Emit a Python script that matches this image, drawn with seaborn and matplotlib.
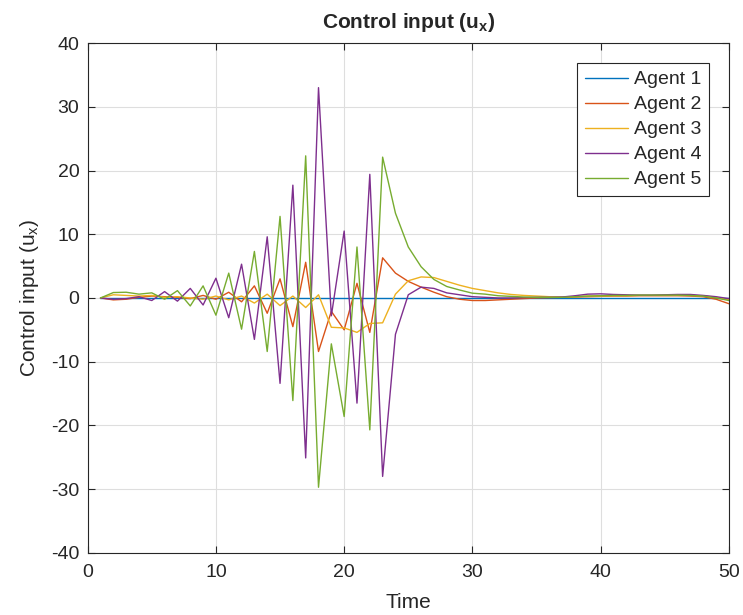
import numpy as np
import pandas as pd
import matplotlib
matplotlib.use("Agg")
import matplotlib.pyplot as plt
import seaborn as sns

# values, one per time step (t = 1..50)
time = np.arange(1, 51)

agent1 = [0.0] * 50

agent2 = [0.0, -0.3, -0.2, 0.1, 0.3, 0.2, 0.1, -0.1, 0.4, -0.2,
          0.9, -0.6, 1.9, -2.4, 3.0, -4.5, 5.6, -8.4, -2.1, -5.0,
          2.3, -5.4, 6.3, 3.9, 2.6, 1.7, 0.9, 0.2, -0.2, -0.4,
          -0.4, -0.3, -0.2, -0.1, 0.0, 0.05, 0.1, 0.15, 0.2, 0.25,
          0.3, 0.3, 0.35, 0.35, 0.35, 0.35, 0.3, 0.2, -0.2, -0.9]

agent3 = [0.0, 0.5, 0.4, 0.3, 0.4, 0.1, 0.2, 0.0, -0.2, 0.3,
          -0.3, 0.3, -0.8, 0.6, -1.2, 0.3, -1.5, 0.5, -4.6, -4.7,
          -5.4, -4.0, -3.9, 0.6, 2.7, 3.3, 3.2, 2.6, 2.0, 1.5,
          1.15, 0.8, 0.55, 0.4, 0.3, 0.2, 0.15, 0.2, 0.3, 0.3,
          0.35, 0.35, 0.4, 0.4, 0.4, 0.4, 0.4, 0.3, 0.1, -0.3]

agent4 = [0.0, -0.2, -0.1, 0.2, -0.4, 1.0, -0.5, 1.5, -1.1, 3.1,
          -3.1, 5.3, -6.5, 9.6, -13.4, 17.7, -25.1, 33.0, -2.8, 10.5,
          -16.5, 19.4, -28.0, -5.7, 0.5, 1.7, 1.5, 0.8, 0.5, 0.2,
          0.1, 0.0, 0.0, 0.05, 0.1, 0.1, 0.15, 0.35, 0.6, 0.65,
          0.55, 0.5, 0.45, 0.45, 0.5, 0.55, 0.55, 0.4, 0.2, -0.1]

agent5 = [0.0, 0.85, 0.9, 0.6, 0.8, -0.2, 1.15, -1.25, 1.9, -2.7,
          3.9, -4.9, 7.3, -8.4, 12.8, -16.1, 22.3, -29.7, -7.2, -18.6,
          8.0, -20.7, 22.1, 13.3, 8.0, 4.9, 2.9, 1.8, 1.25, 0.75,
          0.6, 0.35, 0.25, 0.15, 0.1, 0.1, 0.1, 0.2, 0.3, 0.35,
          0.4, 0.4, 0.45, 0.45, 0.45, 0.45, 0.4, 0.3, 0.0, -0.4]

agent_names = ["Agent 1", "Agent 2", "Agent 3", "Agent 4", "Agent 5"]
colors = ["#0072BD", "#D95319", "#EDB120", "#7E2F8E", "#77AC30"]

# long-form table for seaborn
frames = []
for name, vals in zip(agent_names, [agent1, agent2, agent3, agent4, agent5]):
    frames.append(pd.DataFrame({"Time": time, "u": vals, "Agent": name}))
df = pd.concat(frames, ignore_index=True)

sns.set_style("ticks")
plt.rcParams["font.family"] = ["Liberation Sans", "DejaVu Sans"]
plt.rcParams["axes.unicode_minus"] = False
plt.rcParams["mathtext.fontset"] = "custom"
plt.rcParams["mathtext.rm"] = "Liberation Sans"
plt.rcParams["mathtext.bf"] = "Liberation Sans:bold"

fig = plt.figure(figsize=(7.43, 6.15), dpi=100)
ax = fig.add_axes([0.118, 0.101, 0.863, 0.829])

sns.lineplot(data=df, x="Time", y="u", hue="Agent", palette=colors,
             linewidth=1.0, ax=ax)

ax.set_xlim(0, 50)
ax.set_ylim(-40, 40)
ax.set_xticks(np.arange(0, 51, 10))
ax.set_yticks(np.arange(-40, 41, 10))
ax.grid(True, color="#dedede", linewidth=0.8)
ax.set_axisbelow(True)

for s in ax.spines.values():
    s.set_visible(True)
    s.set_color("#262626")
    s.set_linewidth(0.8)
ax.tick_params(direction="in", top=True, right=True, length=5,
               labelsize=14, colors="#262626", width=0.8)
ax.tick_params(axis="x", pad=8)
ax.tick_params(axis="y", pad=6)

ax.set_xlabel("Time", fontsize=15, color="#262626", labelpad=9)
ax.set_ylabel(r"Control input (u$_{\mathrm{x}}$)", fontsize=15,
              color="#262626", labelpad=7)
ax.set_title(r"Control input (u$_{\mathbf{x}}$)", fontsize=15,
             fontweight="bold", pad=11)

leg = ax.legend(loc="upper right", bbox_to_anchor=(0.969, 0.961),
                borderaxespad=0, fontsize=14, frameon=True, fancybox=False,
                framealpha=1, edgecolor="#262626", handlelength=2.2,
                borderpad=0.4, labelspacing=0.38, handletextpad=0.3)
leg.get_frame().set_linewidth(0.8)
for line in leg.get_lines():
    line.set_linewidth(1.0)

fig.savefig("out.png", dpi=100)
